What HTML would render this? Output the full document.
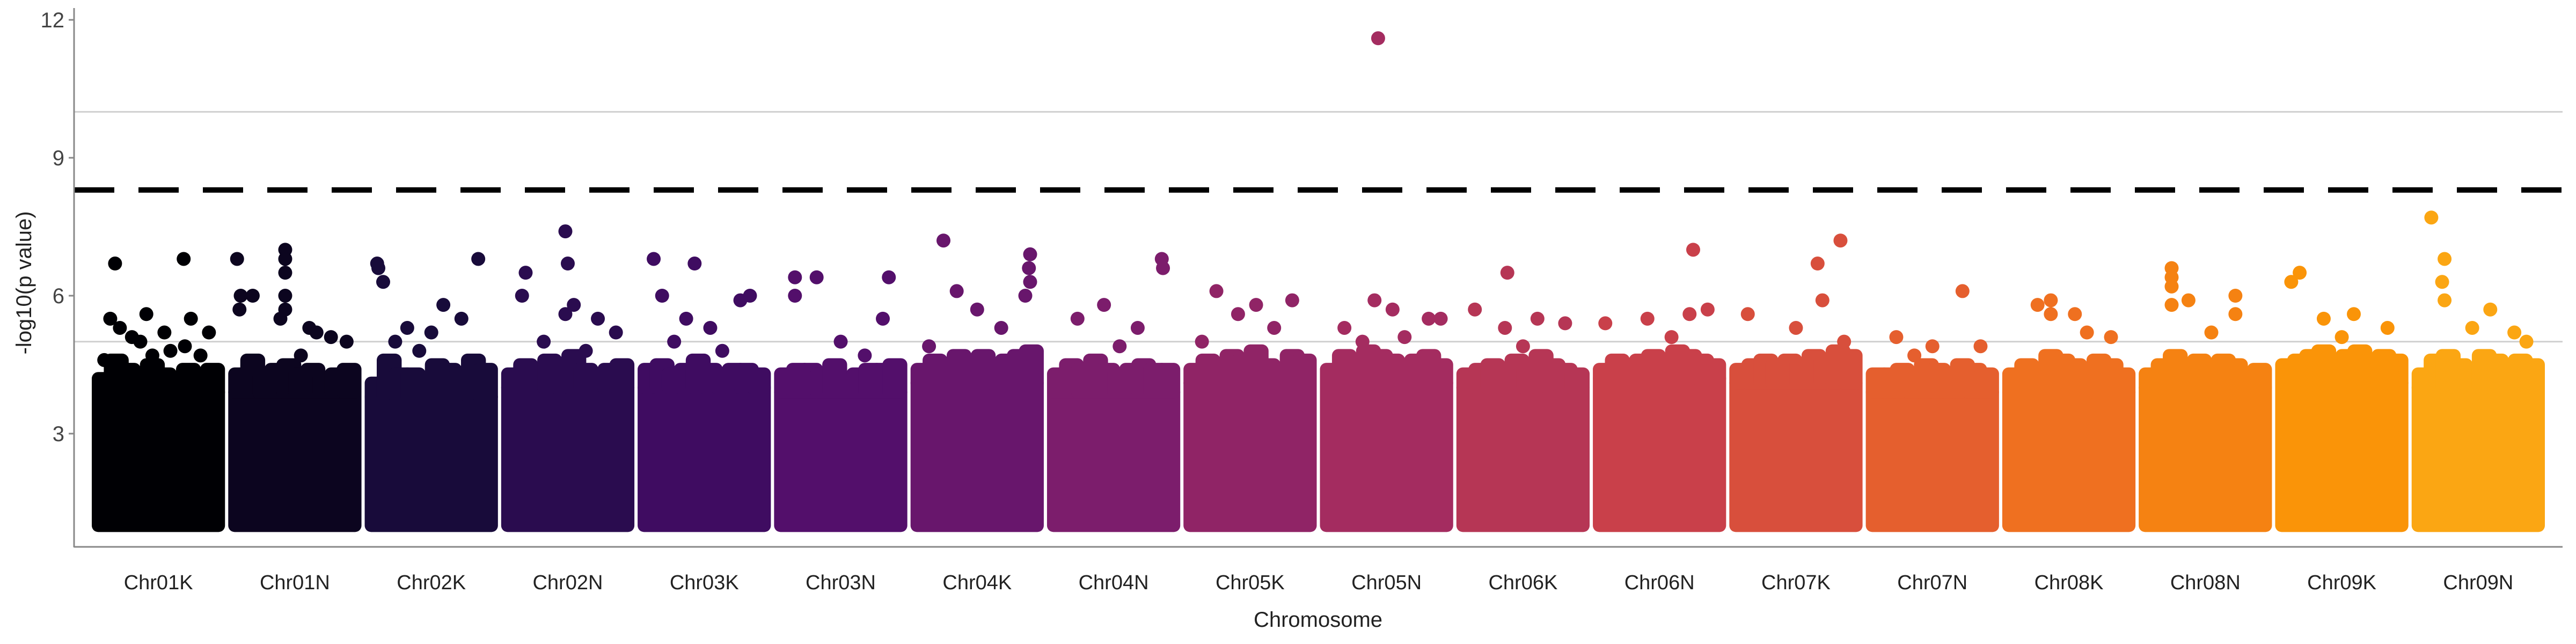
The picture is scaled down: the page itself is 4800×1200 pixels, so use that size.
<!DOCTYPE html>
<html><head><meta charset="utf-8"><style>
html,body{margin:0;padding:0;background:#fff;}
svg{display:block;font-family:"Liberation Sans",sans-serif;}
</style></head><body>
<svg id="chart" width="4800" height="1200" viewBox="0 0 4800 1200" xmlns="http://www.w3.org/2000/svg">
<g id="grid"></g>
<g id="blocks"></g>
<g id="axes"></g>
</svg>
<script>
const chromosomes=["Chr01K","Chr01N","Chr02K","Chr02N","Chr03K","Chr03N","Chr04K","Chr04N","Chr05K","Chr05N","Chr06K","Chr06N","Chr07K","Chr07N","Chr08K","Chr08N","Chr09K","Chr09N"];
const bulkTop=[3.9,3.9,3.8,4.0,4.0,3.9,4.1,3.9,4.1,4.1,4.0,4.2,4.1,3.9,3.9,4.0,4.1,4.0];
const bulkBottom=1.0;
const fringe=[
[4.2,4.6,4.4,4.1,4.5,4.3,4.2,4.4,4.3,4.4],
[4.3,4.6,4.2,4.4,4.5,4.3,4.4,4.2,4.3,4.4],
[4.1,4.6,4.3,4.3,4.2,4.5,4.4,4.3,4.6,4.4],
[4.3,4.5,4.4,4.6,4.4,4.7,4.4,4.3,4.4,4.5],
[4.4,4.5,4.3,4.4,4.6,4.4,4.3,4.4,4.4,4.3],
[4.3,4.4,4.4,4.3,4.5,4.2,4.3,4.4,4.4,4.5],
[4.4,4.6,4.5,4.7,4.6,4.7,4.5,4.6,4.7,4.8],
[4.3,4.5,4.4,4.6,4.4,4.3,4.4,4.5,4.4,4.4],
[4.4,4.6,4.5,4.7,4.6,4.8,4.5,4.4,4.7,4.6],
[4.4,4.7,4.5,4.8,4.7,4.6,4.5,4.6,4.7,4.5],
[4.3,4.4,4.5,4.4,4.6,4.4,4.7,4.5,4.4,4.3],
[4.4,4.6,4.5,4.6,4.7,4.5,4.8,4.7,4.6,4.5],
[4.4,4.5,4.6,4.5,4.6,4.5,4.7,4.6,4.8,4.7],
[4.3,4.3,4.4,4.3,4.5,4.4,4.3,4.5,4.4,4.3],
[4.3,4.5,4.4,4.7,4.6,4.5,4.4,4.6,4.5,4.3],
[4.3,4.5,4.7,4.4,4.6,4.5,4.6,4.5,4.3,4.4],
[4.5,4.6,4.7,4.8,4.6,4.7,4.8,4.6,4.7,4.6],
[4.3,4.6,4.7,4.5,4.4,4.7,4.6,4.5,4.6,4.5]];
const yTicks=[3,6,9,12];
const gridValues=[5,10];
const threshold=8.3;
const outlierPos=[
[.14,.71,.10,.40,.77,.18,.55,.28,.92,.72,.60,.35,.45,.05,.85],
[.02,.42,.42,.42,.05,.15,.38,.62,.68,.80,.93,.42,.42,.04,.55],
[.05,.10,.89,.60,.75,.30,.50,.20,.06,.40],
[.48,.15,.50,.12,.55,.75,.90,.30,.48,.65],
[.08,.42,.15,.88,.80,.35,.55,.25,.65],
[.12,.30,.90,.12,.85,.50,.70],
[.22,.33,.50,.94,.93,.90,.70,.94,.10],
[.90,.91,.42,.20,.70,.55],
[.22,.55,.85,.40,.70,.10],
[.43,.40,.55,.85,.95,.15,.30,.65],
[.37,.10,.62,.85,.35,.50],
[.78,.90,.75,.40,.05,.60],
[.87,.68,.72,.10,.50,.90],
[.75,.20,.50,.90,.35],
[.35,.24,.55,.65,.85,.35],
[.22,.22,.36,.75,.75,.55,.22,.22],
[.15,.08,.60,.35,.88,.50],
[.11,.22,.20,.22,.60,.45,.90,.80]];
const outlierVal=[
[6.7,6.8,5.5,5.6,5.5,5.3,5.2,5.1,5.2,4.9,4.8,5.0,4.7,4.6,4.7],
[6.8,7.0,6.5,6.0,6.0,6.0,5.5,5.3,5.2,5.1,5.0,5.7,6.8,5.7,4.7],
[6.7,6.3,6.8,5.8,5.5,5.3,5.2,5.0,6.6,4.8],
[7.4,6.5,6.7,6.0,5.8,5.5,5.2,5.0,5.6,4.8],
[6.8,6.7,6.0,6.0,5.9,5.5,5.3,5.0,4.8],
[6.4,6.4,6.4,6.0,5.5,5.0,4.7],
[7.2,6.1,5.7,6.9,6.6,6.0,5.3,6.3,4.9],
[6.8,6.6,5.8,5.5,5.3,4.9],
[6.1,5.8,5.9,5.6,5.3,5.0],
[11.6,5.9,5.7,5.5,5.5,5.3,5.0,5.1],
[6.5,5.7,5.5,5.4,5.3,4.9],
[7.0,5.7,5.6,5.5,5.4,5.1],
[7.2,6.7,5.9,5.6,5.3,5.0],
[6.1,5.1,4.9,4.9,4.7],
[5.9,5.8,5.6,5.2,5.1,5.6],
[6.6,6.4,5.9,6.0,5.6,5.2,6.2,5.8],
[6.5,6.3,5.6,5.5,5.3,5.1],
[7.7,6.8,6.3,5.9,5.7,5.3,5.0,5.2]];

const NS="http://www.w3.org/2000/svg";
const X0=138,X1=4775,PL=168,PR=4745;
const yScale=v=>808-(v-3)*(257/3);
const cw=(PR-PL)/chromosomes.length;
const xBand=i=>PL+i*cw;
const stops=[[0,0,0,4],[.1,27,12,65],[.2,74,12,107],[.3,120,28,109],[.4,165,44,96],[.5,207,68,70],[.6,237,105,37],[.7,250,146,7],[.8,251,186,31]];
function inferno(t){for(let k=1;k<stops.length;k++){if(t<=stops[k][0]){const a=stops[k-1],b=stops[k],f=(t-a[0])/(b[0]-a[0]);return`rgb(${Math.round(a[1]+f*(b[1]-a[1]))},${Math.round(a[2]+f*(b[2]-a[2]))},${Math.round(a[3]+f*(b[3]-a[3]))})`;}}return"rgb(251,186,31)";}
function mk(tag,attrs,parent){const e=document.createElementNS(NS,tag);for(const k in attrs)e.setAttribute(k,attrs[k]);parent.appendChild(e);return e;}
const grid=document.getElementById('grid'),blocks=document.getElementById('blocks'),axes=document.getElementById('axes');
gridValues.forEach(v=>{const l=mk('line',{x1:X0,x2:X1,y1:yScale(v),y2:yScale(v),stroke:'#d0d0d0','stroke-width':3},grid);

});
const R=12;
chromosomes.forEach((c,i)=>{
 const col=inferno(i/17*0.75);
 const g=mk('g',{fill:col},blocks);
 
 
 const bx=xBand(i)+3,bw=cw-6,top=yScale(bulkTop[i]),bot=yScale(bulkBottom);
 const r=mk('rect',{x:bx,y:top-R,width:bw,height:bot-top+2*R,rx:R},g);
 
 
 const fw=(bw-2*R)/fringe[i].length;
 fringe[i].forEach((v,j)=>{
  const fx=bx+R+j*fw,fy=yScale(v);
  const fr=mk('rect',{x:fx-R,y:fy-R,width:fw+2*R,height:top-fy+2*R,rx:R},g);
  
  
 });
 outlierPos[i].forEach((p,j)=>{
  const cx=bx+R+p*(bw-2*R),cy=yScale(outlierVal[i][j]);
  const pt=mk('circle',{cx:cx,cy:cy,r:R+1},g);
  
  
 });
 const t=mk('text',{x:xBand(i)+cw/2,y:1098,'text-anchor':'middle','font-size':38,fill:'#222'},axes);
 t.textContent=c;
 
 
});
const th=mk('line',{x1:X0,x2:X1,y1:yScale(threshold),y2:yScale(threshold),stroke:'#000','stroke-width':10,'stroke-dasharray':'75 45'},axes);


const ya=mk('line',{x1:X0,x2:X0,y1:15,y2:1020,stroke:'#888','stroke-width':3},axes);


const xa=mk('line',{x1:X0,x2:X1,y1:1019,y2:1019,stroke:'#888','stroke-width':3},axes);


yTicks.forEach(v=>{
 const tk=mk('line',{x1:X0-10,x2:X0,y1:yScale(v),y2:yScale(v),stroke:'#888','stroke-width':3},axes);
 
 
 const tl=mk('text',{x:X0-18,y:yScale(v)+14,'text-anchor':'end','font-size':40,fill:'#444'},axes);
 tl.textContent=v;
 
 
});
</script>
<svg style="position:absolute;left:0;top:0" width="4800" height="1200">
<text x="2456" y="1168" text-anchor="middle" font-size="40" fill="#222" font-family="Liberation Sans,sans-serif">Chromosome</text>
<text transform="translate(58,527) rotate(-90)" text-anchor="middle" font-size="40" fill="#222" font-family="Liberation Sans,sans-serif">-log10(p value)</text>
</svg>
</body></html>
